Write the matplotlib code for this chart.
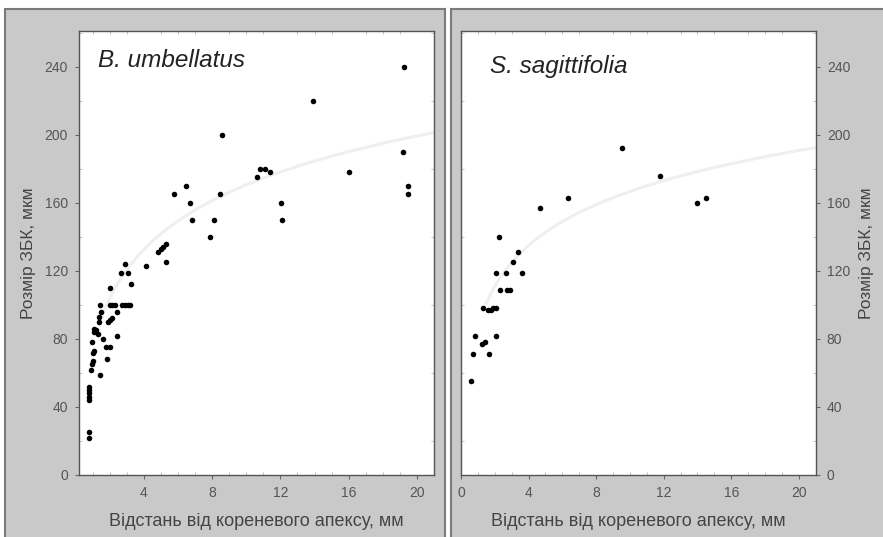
#!/usr/bin/env python
"""Root cell size vs distance from root apex, two species side by side."""
import numpy as np
import matplotlib
matplotlib.use("Agg")
import matplotlib.pyplot as plt
from matplotlib.patches import Rectangle
from matplotlib.ticker import MultipleLocator

plt.rcParams["font.family"] = ["Liberation Sans", "DejaVu Sans"]

# B. umbellatus: distance (mm) and cell size (um)
bu_x = [0.8, 0.8, 0.8, 0.8, 0.8, 0.8, 0.8,
        0.9, 0.95, 1.0, 1.0, 1.1, 0.95, 1.1, 1.2, 1.05,
        1.45, 1.85, 1.8, 2.0, 1.6, 1.3, 2.45,
        1.4, 1.4, 1.5, 1.9, 2.0, 2.15, 2.45,
        1.45, 2.0, 2.15, 2.3, 2.7, 2.9, 3.05, 3.2,
        2.0, 3.25, 2.65, 3.05, 2.9, 4.1, 5.3,
        4.8, 5.0, 5.1, 5.3,
        5.75, 6.45, 6.7, 6.8, 7.85, 8.1, 8.45, 8.6,
        10.6, 10.8, 11.1, 11.4, 12.05, 12.1,
        13.9, 16.0, 19.2, 19.25, 19.45, 19.45]
bu_y = [22, 25, 44, 46, 48, 50, 52,
        62, 65, 67, 72, 73, 78, 84, 85, 86,
        59, 68, 75, 75, 80, 83, 82,
        90, 93, 96, 90, 91, 92, 96,
        100, 100, 100, 100, 100, 100, 100, 100,
        110, 112, 119, 119, 124, 123, 125,
        131, 133, 134, 136,
        165, 170, 160, 150, 140, 150, 165, 200,
        175, 180, 180, 178, 160, 150,
        220, 178, 190, 240, 170, 165]

# S. sagittifolia
ss_x = [0.57, 0.7, 0.83, 1.25, 1.4, 1.65, 2.05,
        1.3, 1.6, 1.75, 1.9, 2.05,
        2.3, 2.7, 2.9,
        2.1, 2.65, 3.6,
        3.05, 3.35, 2.25,
        4.7, 6.35, 9.55, 11.8, 14.0, 14.5]
ss_y = [55, 71, 82, 77, 78, 71, 82,
        98, 97, 97, 98, 98,
        109, 109, 109,
        119, 119, 119,
        125, 131, 140,
        157, 163, 192, 176, 160, 163]

# logarithmic fit curves y = a + b*ln(x)
bu_fit = (75.0, 41.5)
ss_fit = (86.8, 34.7)

y_ticks = [0, 40, 80, 120, 160, 200, 240]
x_label = "Відстань від кореневого апексу, мм"
y_label = "Розмір ЗБК, мкм"

W, H = 883, 537
BG = "#c9c9c9"
EDGE = "#7a7a7a"

fig = plt.figure(figsize=(W / 100, H / 100), dpi=100)
fig.patch.set_facecolor("white")

# gray panel frames, kept behind the axes
for x0, x1 in [(5, 445), (451, 890)]:
    fig.patches.append(Rectangle((x0 / W, -0.05), (x1 - x0) / W, 1 - 9 / H + 0.05,
                                 transform=fig.transFigure, facecolor=BG,
                                 edgecolor=EDGE, linewidth=1.5, zorder=-5))


def panel(rect, xs, ys, fit, xlim, xticks, title, title_pos, right=False):
    ax = fig.add_axes(rect)
    ax.set_facecolor("white")
    ax.set_xlim(*xlim)
    ax.set_ylim(0, 261)
    xx = np.linspace(1.5, xlim[1], 200)
    ax.plot(xx, fit[0] + fit[1] * np.log(xx), color="#efefef", linewidth=2.2, zorder=1)
    ax.scatter(xs, ys, s=16, color="black", linewidths=0, zorder=3)
    ax.set_xticks(xticks)
    ax.set_yticks(y_ticks)
    ax.xaxis.set_minor_locator(MultipleLocator(1))
    ax.yaxis.set_minor_locator(MultipleLocator(20))
    for s in ax.spines.values():
        s.set_color("#555555")
        s.set_linewidth(1.0)
    ax.tick_params(which="major", length=3, width=0.8, color="#666666",
                   labelsize=10, labelcolor="#555555", pad=5)
    ax.tick_params(which="minor", direction="in", length=2, width=0.6,
                   color="#b5b5b5", top=True, right=True, left=True, bottom=True)
    if right:
        ax.yaxis.tick_right()
        ax.yaxis.set_label_position("right")
        ax.tick_params(which="minor", left=True)
    ax.set_xlabel(x_label, fontsize=13, color="#444444", labelpad=9)
    ax.set_ylabel(y_label, fontsize=12.5, color="#444444", labelpad=6)
    ax.text(title_pos[0], title_pos[1], title, transform=ax.transAxes,
            fontsize=17.5, style="italic", color="#222222", va="baseline")
    return ax


bottom = 1 - 475 / H
height = 444 / H
panel([79 / W, bottom, 355 / W, height], bu_x, bu_y, bu_fit, (0.2, 21),
      [4, 8, 12, 16, 20], "B. umbellatus", (0.054, 0.919))
panel([461 / W, bottom, 354.7 / W, height], ss_x, ss_y, ss_fit, (0, 21),
      [0, 4, 8, 12, 16, 20], "S. sagittifolia", (0.082, 0.905), right=True)

fig.savefig("out.png", dpi=100)
